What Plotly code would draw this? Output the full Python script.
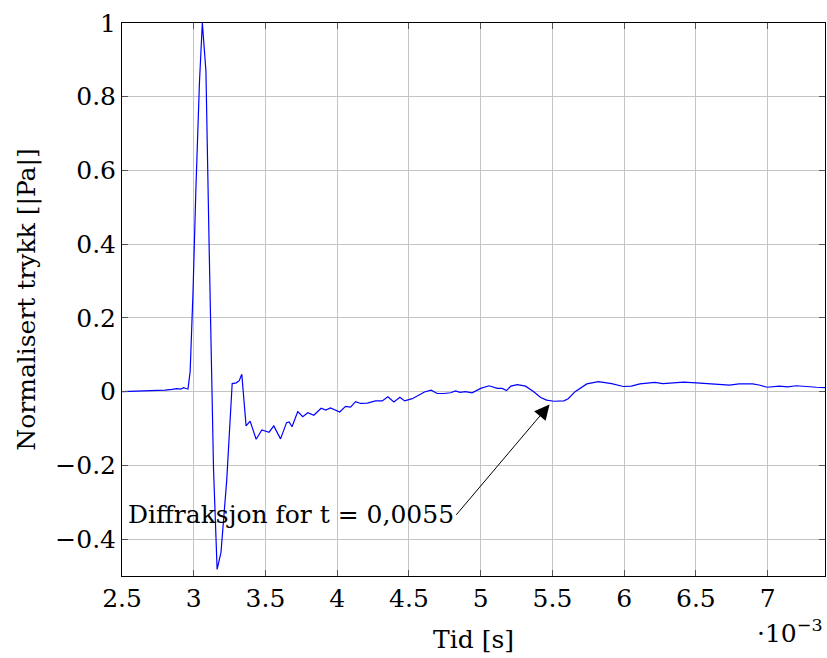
import plotly.graph_objects as go

# Time samples in milliseconds and normalised pressure
t_ms = [2.50, 2.60, 2.70, 2.80, 2.85, 2.88, 2.91, 2.93, 2.95, 2.96,
        2.975, 2.995, 3.015, 3.04, 3.06, 3.085, 3.107, 3.138, 3.163, 3.19,
        3.23, 3.268, 3.297, 3.317, 3.335, 3.365, 3.393, 3.435, 3.475, 3.50,
        3.525, 3.558, 3.605, 3.647, 3.665, 3.685, 3.725, 3.76, 3.795, 3.837,
        3.888, 3.92, 3.953, 4.018, 4.058, 4.093, 4.128, 4.163, 4.21, 4.267,
        4.314, 4.353, 4.395, 4.437, 4.47, 4.523, 4.57, 4.608, 4.655, 4.697,
        4.743, 4.79, 4.825, 4.855, 4.895, 4.94, 5.0, 5.058, 5.116, 5.15,
        5.18, 5.21, 5.255, 5.313, 5.37, 5.418, 5.46, 5.51, 5.58, 5.61,
        5.658, 5.74, 5.82, 5.913, 5.994, 6.05, 6.11, 6.214, 6.27, 6.342,
        6.414, 6.503, 6.595, 6.665, 6.735, 6.8, 6.896, 6.94, 6.997, 7.08,
        7.14, 7.2, 7.268, 7.34, 7.40]
pressure = [0.000, 0.001, 0.002, 0.004, 0.006, 0.008, 0.007, 0.011, 0.008, 0.007,
            0.055, 0.27, 0.55, 0.84, 1.0, 0.87, 0.40, -0.21, -0.482, -0.436,
            -0.24, 0.022, 0.024, 0.03, 0.047, -0.093, -0.08, -0.129, -0.104, -0.107,
            -0.11, -0.093, -0.128, -0.084, -0.082, -0.095, -0.054, -0.068, -0.057, -0.064,
            -0.045, -0.05, -0.044, -0.055, -0.04, -0.042, -0.027, -0.032, -0.031, -0.025,
            -0.025, -0.014, -0.028, -0.015, -0.025, -0.019, -0.010, -0.001, 0.004, -0.005,
            -0.005, -0.003, 0.002, -0.002, 0.0, -0.003, 0.009, 0.016, 0.009, 0.009,
            0.003, 0.015, 0.019, 0.015, 0.0, -0.016, -0.023, -0.026, -0.025, -0.019,
            0.0, 0.021, 0.027, 0.022, 0.014, 0.015, 0.021, 0.025, 0.022, 0.023,
            0.026, 0.024, 0.022, 0.02, 0.018, 0.021, 0.021, 0.018, 0.012, 0.015,
            0.013, 0.016, 0.015, 0.012, 0.011]

x_tick_ms = [2.5, 3, 3.5, 4, 4.5, 5, 5.5, 6, 6.5, 7]
x_tick_text = ["2.5", "3", "3.5", "4", "4.5", "5", "5.5", "6", "6.5", "7"]
y_ticks = [-0.4, -0.2, 0, 0.2, 0.4, 0.6, 0.8, 1]
y_tick_text = ["\u22120.4", "\u22120.2", "0", "0.2", "0.4", "0.6", "0.8", "1"]

# Annotated instant (arrow tip) and label anchor
note_tip = (5.48e-3, -0.035)
note_tail = (4.83e-3, -0.334)
note_text = "Diffraksjon for t = 0,0055"

FONT = "DejaVu Serif"
FSIZE = 25
grid_col = "#c4c4c4"

t_s = [v * 1e-3 for v in t_ms]

fig = go.Figure()
fig.add_trace(go.Scatter(x=t_s, y=pressure, mode="lines",
                         line=dict(color="#0000ff", width=1.2),
                         showlegend=False, hoverinfo="skip"))

axis_common = dict(showgrid=True, gridcolor=grid_col, gridwidth=1,
                   zeroline=False, showline=True, linecolor="black",
                   linewidth=1, mirror="all", ticks="inside", ticklen=6,
                   tickcolor="#555555", tickfont=dict(family=FONT, size=FSIZE,
                                                      color="black"))

fig.update_xaxes(range=[2.5e-3, 7.4e-3],
                 tickvals=[v * 1e-3 for v in x_tick_ms], ticktext=x_tick_text,
                 title=dict(text="Tid [s]", font=dict(family=FONT, size=FSIZE,
                                                     color="black"),
                            standoff=18),
                 **axis_common)
fig.update_yaxes(range=[-0.5, 1.0], tickvals=y_ticks, ticktext=y_tick_text,
                 title=dict(text="Normalisert trykk [|Pa|]",
                            font=dict(family=FONT, size=FSIZE, color="black"),
                            standoff=12),
                 **axis_common)

# Label with an arrow pointing at the diffraction feature
fig.add_annotation(x=note_tip[0], y=note_tip[1], ax=note_tail[0], ay=note_tail[1],
                   xref="x", yref="y", axref="x", ayref="y", text=note_text,
                   xanchor="right", yanchor="middle",
                   showarrow=True, arrowhead=2, arrowsize=3, arrowwidth=1,
                   arrowcolor="black", standoff=0, startstandoff=0,
                   font=dict(family=FONT, size=FSIZE, color="black"))

# Axis scale factor
fig.add_annotation(x=1, y=-0.1, xref="paper", yref="paper",
                   text="\u00b710<sup>\u22123</sup>", showarrow=False,
                   xanchor="right", yanchor="middle",
                   font=dict(family=FONT, size=FSIZE, color="black"))

fig.update_layout(width=827, height=658,
                  margin=dict(l=122, r=2, t=23, b=82),
                  paper_bgcolor="white", plot_bgcolor="white")

fig.write_html("out.html")
